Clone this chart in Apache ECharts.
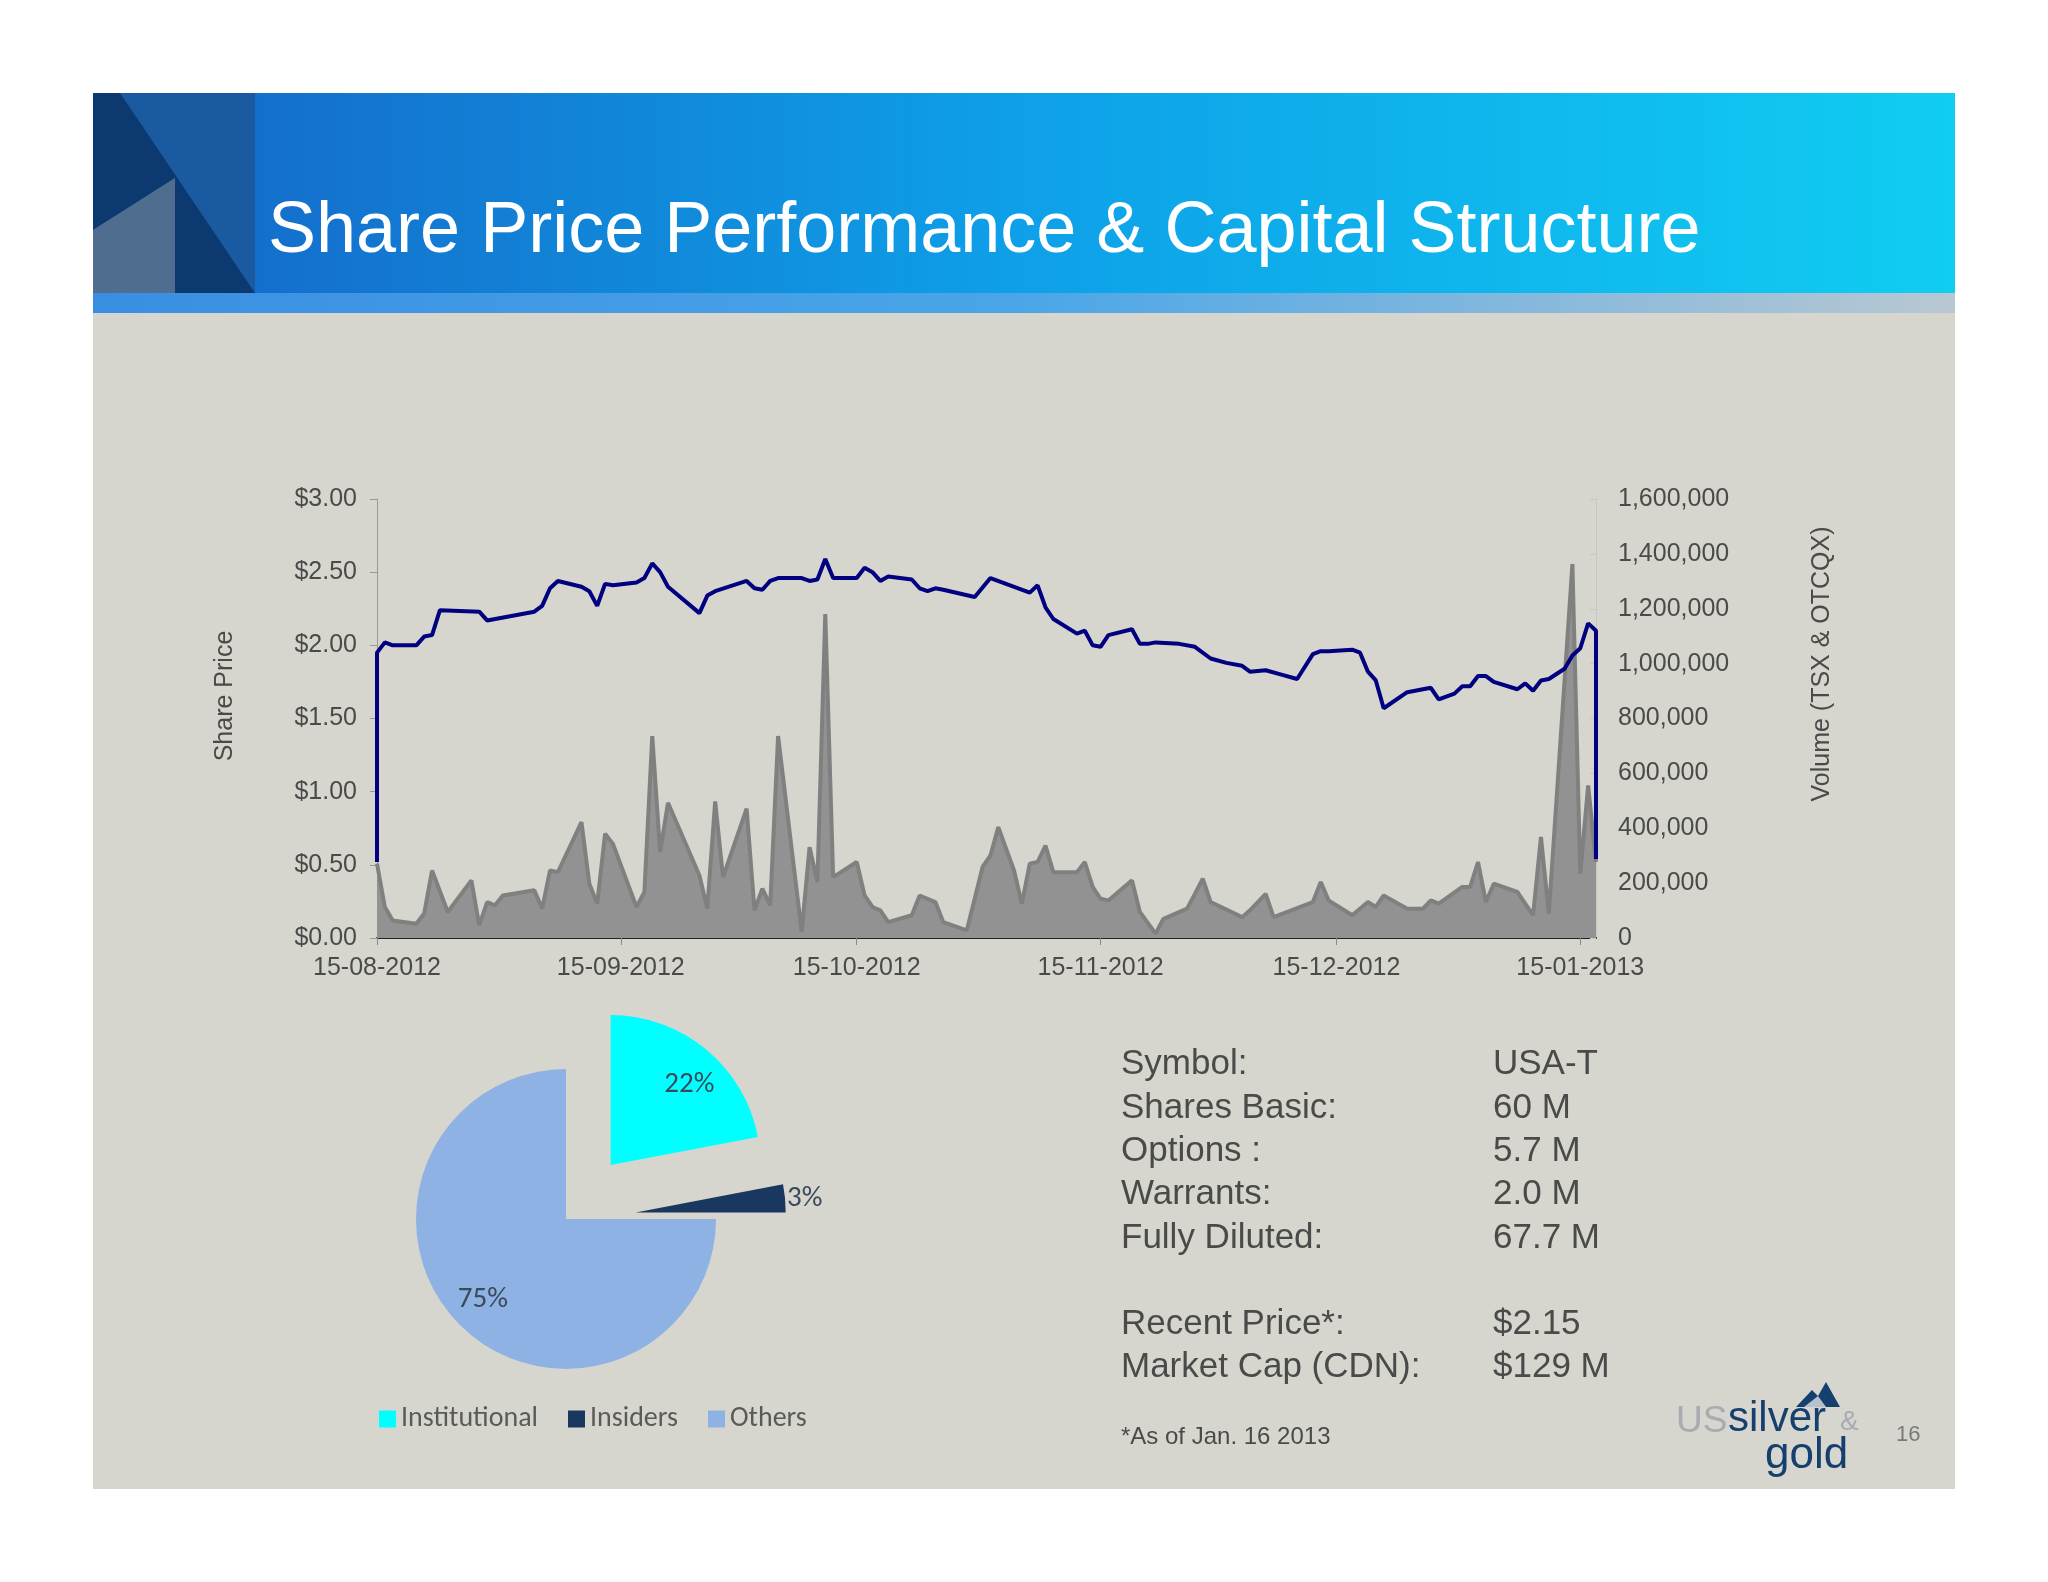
<!DOCTYPE html>
<html><head><meta charset="utf-8">
<script src="https://cdn.jsdelivr.net/npm/echarts@6/dist/echarts.min.js"></script>
<style>html,body{margin:0;padding:0;background:#fff}#c{width:2048px;height:1582px}</style>
</head><body><div id="c"></div>
<script>
// Day offsets from 15-08-2012
const baseDate = [2012, 7, 15];
const priceDays = [0,0,1,2,5,6,7,8,13,14,20,21,22,23,26,27,28,29,30,33,34,35,36,37,41,42,43,47,48,49,50,51,54,55,56,57,58,61,62,63,64,65,68,69,70,71,72,76,78,83,84,85,86,89,90,91,92,93,96,97,98,99,102,104,106,108,110,111,113,115,117,119,120,121,124,125,126,127,128,131,132,134,135,137,138,139,140,141,142,145,146,147,148,149,151,152,153,154,155,155];
const prices = [0.52,1.95,2.02,2.00,2.00,2.06,2.07,2.24,2.23,2.17,2.23,2.27,2.39,2.44,2.40,2.37,2.27,2.42,2.41,2.43,2.46,2.56,2.50,2.40,2.22,2.34,2.37,2.44,2.39,2.38,2.44,2.46,2.46,2.44,2.45,2.59,2.46,2.46,2.53,2.50,2.44,2.47,2.45,2.39,2.37,2.39,2.38,2.33,2.46,2.36,2.41,2.26,2.18,2.08,2.10,2.00,1.99,2.07,2.11,2.01,2.01,2.02,2.01,1.99,1.91,1.88,1.86,1.82,1.83,1.80,1.77,1.94,1.96,1.96,1.97,1.95,1.82,1.76,1.57,1.68,1.69,1.71,1.63,1.67,1.72,1.72,1.79,1.79,1.75,1.70,1.74,1.69,1.76,1.77,1.84,1.93,1.98,2.15,2.10,0.54];
const volDays = [0,1,2,5,6,7,9,12,13,14,15,16,20,21,22,23,26,27,28,29,30,33,34,35,36,37,41,42,43,44,47,48,49,50,51,54,55,56,57,58,61,62,63,64,65,68,69,71,72,75,77,78,79,81,82,83,84,85,86,89,90,91,92,93,96,97,99,100,103,104,105,106,110,111,113,114,119,120,121,124,126,127,128,131,133,134,135,138,139,140,141,142,145,146,147,148,149,152,153,154,155];
const volumes = [271000,113000,64000,52000,89000,246000,95000,210000,46000,131000,119000,155000,174000,107000,246000,240000,422000,198000,125000,380000,343000,113000,168000,736000,313000,493000,228000,107000,498000,222000,471000,101000,180000,119000,736000,22000,331000,204000,1181000,222000,277000,155000,113000,101000,58000,83000,155000,131000,58000,28000,259000,301000,404000,246000,125000,271000,277000,337000,240000,240000,277000,186000,143000,137000,210000,95000,16000,70000,107000,161000,216000,131000,76000,101000,161000,76000,131000,204000,137000,83000,131000,113000,155000,107000,107000,137000,125000,186000,186000,277000,131000,198000,168000,125000,83000,368000,89000,1363000,234000,556000,277000];
const xTickDays = [0,31,61,92,122,153];
const pieNames = ['Institutional','Insiders','Others'];
const pieValues = [22,3,75];
const infoLabels = ['Symbol:','Shares Basic:','Options :','Warrants:','Fully Diluted:','Recent Price*:','Market Cap (CDN):'];
const infoValues = ['USA-T','60 M','5.7 M','2.0 M','67.7 M','$2.15','$129 M'];

function dayToStr(d){
  const dt = new Date(Date.UTC(baseDate[0], baseDate[1], baseDate[2] + d));
  const p = n => String(n).padStart(2,'0');
  return p(dt.getUTCDate()) + '-' + p(dt.getUTCMonth()+1) + '-' + dt.getUTCFullYear();
}
const FONT = 'Liberation Sans, Arial, sans-serif';
const CAL = 'Carlito, "Open Sans", sans-serif';
const chart = echarts.init(document.getElementById('c'));
const infoY = [1064,1108,1151,1194,1238,1324,1367];
const graphics = [
  {type:'rect', shape:{x:93,y:313,width:1862,height:1176}, style:{fill:'#d6d6ce'}, z:-10},
  {type:'rect', shape:{x:93,y:93,width:1862,height:200}, style:{fill:new echarts.graphic.LinearGradient(0,0,1,0,[{offset:0,color:'#1565c6'},{offset:0.5,color:'#0ea0e8'},{offset:1,color:'#10cdf2'}])}, z:-9},
  {type:'rect', shape:{x:93,y:293,width:1862,height:20}, style:{fill:new echarts.graphic.LinearGradient(0,0,1,0,[{offset:0,color:'#3a8ee2'},{offset:0.5,color:'#4aa6e8'},{offset:1,color:'#b8c8d2'}])}, z:-9},
  {type:'rect', shape:{x:93,y:93,width:162,height:200}, style:{fill:'#1a5aa0'}, z:-8},
  {type:'polygon', shape:{points:[[93,93],[120,93],[255,293],[175,293],[175,178],[93,230]]}, style:{fill:'#0c3a70'}, z:-7},
  {type:'polygon', shape:{points:[[93,230],[175,178],[175,293],[93,293]]}, style:{fill:'#4f6d8f'}, z:-7},
  {type:'text', x:268, y:232, style:{text:'Share Price Performance & Capital Structure', fill:'#fff', font:'72px '+FONT, textVerticalAlign:'middle'}},
  {type:'text', x:225, y:696, rotation:Math.PI/2, style:{text:'Share Price', fill:'#4a4a4a', font:'25px '+FONT, align:'center', verticalAlign:'middle'}},
  {type:'text', x:1822, y:664, rotation:Math.PI/2, style:{text:'Volume (TSX & OTCQX)', fill:'#4a4a4a', font:'25px '+FONT, align:'center', verticalAlign:'middle'}},
  {type:'text', x:1121, y:1437, style:{text:'*As of Jan. 16 2013', fill:'#4a4a4a', font:'24px '+FONT, textVerticalAlign:'middle'}},
  {type:'text', x:1896, y:1435, style:{text:'16', fill:'#7a7a7a', font:'22px '+FONT, textVerticalAlign:'middle'}},
  {type:'polygon', shape:{points:[[1796,1407],[1812,1390],[1818,1396],[1826,1382],[1840,1407]]}, style:{fill:'#153f6e'}},
  {type:'polygon', shape:{points:[[1804,1407],[1818,1396],[1826,1407]]}, style:{fill:'#b8c0cc'}},
  {type:'text', x:1676, y:1440, style:{text:'US', fill:'#a8abb2', font:'37px '+FONT, textVerticalAlign:'bottom'}},
  {type:'text', x:1728, y:1440, style:{text:'silver', fill:'#153f6e', font:'42px '+FONT, textVerticalAlign:'bottom'}},
  {type:'text', x:1840, y:1436, style:{text:'&', fill:'#a8abb2', font:'28px '+FONT, textVerticalAlign:'bottom'}},
  {type:'text', x:1765, y:1478, style:{text:'gold', fill:'#153f6e', font:'44px '+FONT, textVerticalAlign:'bottom'}}
];
infoLabels.forEach((t,i)=>{
  graphics.push({type:'text', x:1121, y:infoY[i], style:{text:t, fill:'#4a4a4a', font:'35px '+FONT, textVerticalAlign:'middle'}});
  graphics.push({type:'text', x:1493, y:infoY[i], style:{text:infoValues[i], fill:'#4a4a4a', font:'35px '+FONT, textVerticalAlign:'middle'}});
});
const pieColors = ['#00ffff','#1a3760','#8eb2e4'];
const pieLabels = [
  {position:'inside', formatter:'{c}%\n ', lineHeight:40, padding:[0,0,0,58], color:'#3a4a5a'},
  {position:'outside', color:'#3a4a5a', distanceToLabelLine:2},
  {position:'inside', offset:[-28,26], color:'#3a4a5a'}
];
chart.setOption({
  backgroundColor:'#ffffff',
  animation:false,
  graphic: graphics,
  grid:{left:377, right:452, top:499, bottom:644},
  legend:{data:pieNames, left:374, top:1400, itemWidth:17, itemHeight:17, itemGap:30, icon:'rect',
    textStyle:{color:'#5a5a5a', fontSize:28, fontFamily:CAL}},
  xAxis:{type:'value', min:0, max:155,
    axisLine:{lineStyle:{color:'#222', width:2}},
    axisTick:{customValues:xTickDays, length:7, lineStyle:{color:'#888'}},
    axisLabel:{customValues:xTickDays, formatter:v=>dayToStr(v), color:'#4a4a4a', fontSize:25, fontFamily:FONT, margin:18},
    splitLine:{show:false}},
  yAxis:[
    {type:'value', min:0, max:3, interval:0.5,
      axisLine:{show:true, lineStyle:{color:'#999'}}, axisTick:{show:true, length:7, lineStyle:{color:'#999'}},
      axisLabel:{formatter:v=>'$'+v.toFixed(2), color:'#4a4a4a', fontSize:25, fontFamily:FONT, margin:20},
      splitLine:{show:false}},
    {type:'value', min:0, max:1600000, interval:200000,
      axisLine:{show:true, lineStyle:{color:'#c8c8c0'}}, axisTick:{show:true, inside:true, length:6, lineStyle:{color:'#c8c8c0'}},
      axisLabel:{formatter:v=>v.toLocaleString('en-US'), color:'#4a4a4a', fontSize:25, fontFamily:FONT, margin:22},
      splitLine:{show:false}}
  ],
  series:[
    {type:'line', name:'Volume', yAxisIndex:1, data:volDays.map((d,i)=>[d,volumes[i]]), symbol:'none',
      lineStyle:{color:'#808080', width:4}, areaStyle:{color:'#929292', opacity:1}, z:2},
    {type:'line', name:'Price', yAxisIndex:0, data:priceDays.map((d,i)=>[d,prices[i]]), symbol:'none',
      lineStyle:{color:'#000080', width:4}, z:3},
    {type:'pie', center:[566,1219], radius:150, startAngle:90, clockwise:true,
      selectedMode:'multiple', selectedOffset:70,
      data:pieNames.map((n,i)=>({name:n, value:pieValues[i], selected:i<2,
        itemStyle:{color:pieColors[i]}, label:pieLabels[i],
        labelLine:{show:false, length:0, length2:0}})),
      label:{formatter:'{c}%', fontSize:29, fontFamily:CAL},
      emphasis:{disabled:true}}
  ]
});
</script></body></html>
